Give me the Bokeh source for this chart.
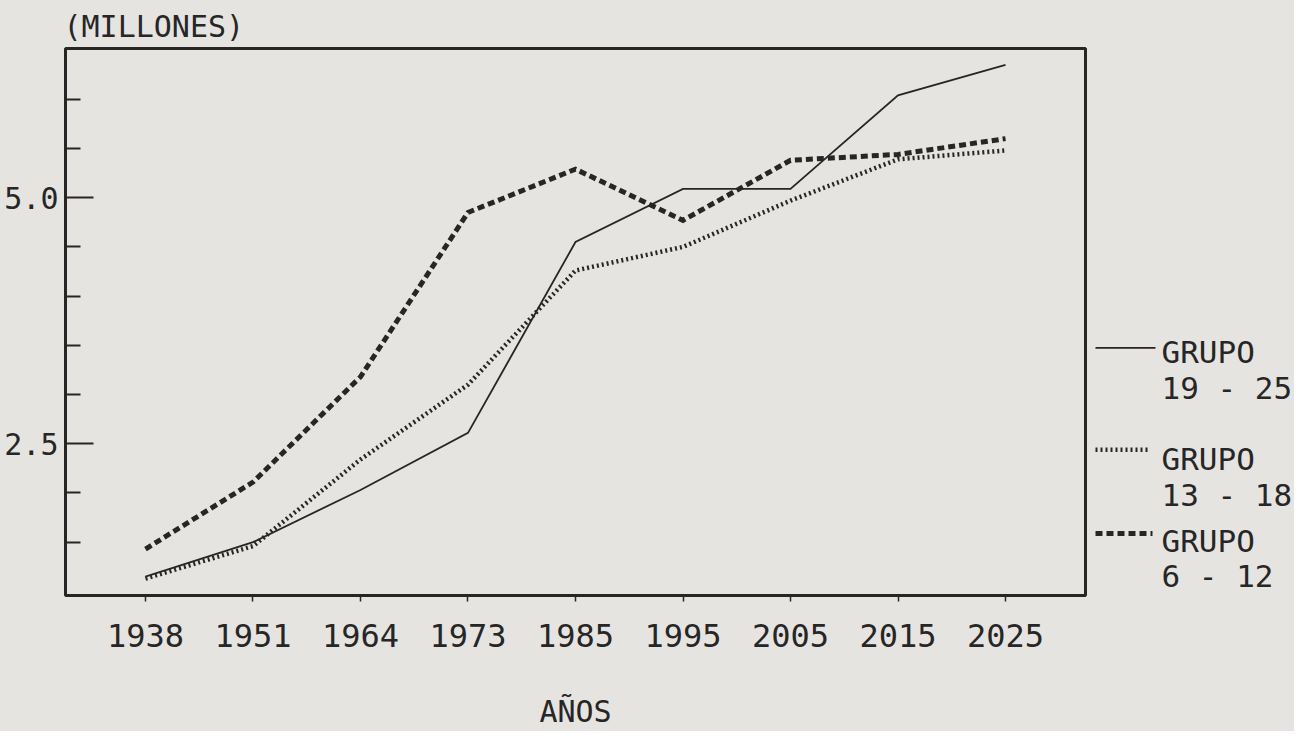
from bokeh.plotting import figure
from bokeh.models import FactorRange, Range1d, FixedTicker, Title
from bokeh.layouts import row
from bokeh.embed import file_html
from bokeh.resources import INLINE
from bokeh.core.properties import value

# ---- data (millions) ----
years = ["1938", "1951", "1964", "1973", "1985", "1995", "2005", "2015", "2025"]
grupo_19_25 = [1.15, 1.50, 2.03, 2.61, 4.55, 5.09, 5.09, 6.04, 6.35]
grupo_13_18 = [1.13, 1.46, 2.34, 3.10, 4.26, 4.50, 4.97, 5.39, 5.48]
grupo_6_12 = [1.43, 2.11, 3.18, 4.85, 5.29, 4.77, 5.38, 5.44, 5.60]
y_major_ticks = [2.5, 5.0]
y_minor_ticks = [1.5, 2.0, 3.0, 3.5, 4.0, 4.5, 5.5, 6.0]
series_names = ["19 - 25", "13 - 18", "6 - 12"]
legend_word = "GRUPO"
title_text = "(MILLONES)"
x_title = "AÑOS"

# ---- style ----
BG = "#e6e4e0"
INK = "#262626"
FONT = "DejaVu Sans Mono"
styles = [
    dict(line_width=1.8, line_dash="solid"),
    dict(line_width=4.5, line_dash="2 3"),
    dict(line_width=5, line_dash="7 4"),
]

H = 731
W1 = 1088
W2 = 206
FRAME_TOP = 48
FRAME_BOTTOM = 596

p = figure(
    width=W1, height=H,
    x_range=FactorRange(factors=years, range_padding=0.244, range_padding_units="absolute"),
    y_range=Range1d(0.958, 6.516),
    output_backend="svg", toolbar_location=None,
    min_border_left=65, min_border_right=3, min_border_top=FRAME_TOP,
    min_border_bottom=H - FRAME_BOTTOM,
    background_fill_color=BG, border_fill_color=None,
)
p.title = Title(text=title_text, align="left", text_font=FONT, text_font_size="30px",
                text_font_style="normal", text_color=INK, standoff=10, offset=-2)
p.grid.visible = False
p.outline_line_color = INK
p.outline_line_width = 3

# y axis
ya = p.yaxis[0]
ya.ticker = FixedTicker(ticks=y_major_ticks, minor_ticks=y_minor_ticks)
ya.major_label_overrides = {t: f"{t:.1f}" for t in y_major_ticks}
ya.axis_line_color = None
ya.major_tick_in = 28
ya.major_tick_out = 0
ya.minor_tick_in = 15
ya.minor_tick_out = 0
ya.major_tick_line_color = INK
ya.minor_tick_line_color = INK
ya.major_tick_line_width = 2
ya.minor_tick_line_width = 2
ya.major_label_text_font = FONT
ya.major_label_text_font_size = "30px"
ya.major_label_text_color = INK
ya.major_label_standoff = 7

# x axis
xa = p.xaxis[0]
xa.axis_line_color = None
xa.major_tick_in = 0
xa.major_tick_out = 6
xa.minor_tick_line_color = None
xa.major_tick_line_color = INK
xa.major_tick_line_width = 1.5
xa.major_label_text_font = FONT
xa.major_label_text_font_size = "32px"
xa.major_label_text_color = INK
xa.major_label_standoff = 22
xa.axis_label = x_title
xa.axis_label_text_font = FONT
xa.axis_label_text_font_size = "30px"
xa.axis_label_text_font_style = "normal"
xa.axis_label_text_color = INK
xa.axis_label_standoff = 44

for vals, st in zip([grupo_19_25, grupo_13_18, grupo_6_12], styles):
    p.line(x=years, y=vals, line_color=INK, line_join="miter", **st)

# ---- legend panel (frame aligned with the chart frame; y in page pixels) ----
q = figure(
    width=W2, height=H, x_range=Range1d(0, W2), y_range=Range1d(FRAME_BOTTOM, FRAME_TOP),
    output_backend="svg", toolbar_location=None, min_border=0,
    min_border_top=FRAME_TOP, min_border_bottom=H - FRAME_BOTTOM,
    x_axis_location=None, y_axis_location=None,
    background_fill_color=None, border_fill_color=None,
)
q.grid.visible = False
q.outline_line_color = None

line_x0 = 7
line_x1 = [67, 61, 64]
line_y = [348, 450, 534]
word_y = [352.5, 459.5, 541.5]
name_y = [388.5, 495.5, 576.5]
text_x = 73
for i, st in enumerate(styles):
    q.line(x=[line_x0, line_x1[i]], y=[line_y[i], line_y[i]], line_color=INK, **st)
    q.text(x=[text_x], y=[word_y[i]], text=[legend_word], text_font=value(FONT),
           text_font_size="31px", text_color=INK, text_baseline="middle", text_align="left")
    q.text(x=[text_x], y=[name_y[i]], text=[series_names[i]], text_font=value(FONT),
           text_font_size="31px", text_color=INK, text_baseline="middle", text_align="left")

layout = row(p, q, styles={"background-color": BG})
html = file_html(layout, INLINE)
html = html.replace("<body>", '<body style="background:%s">' % BG, 1)
open("out.html", "w").write(html)
